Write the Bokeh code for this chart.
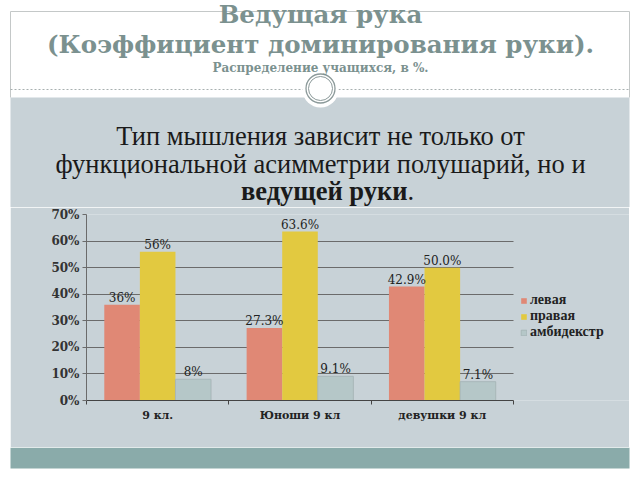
from bokeh.plotting import figure
from bokeh.models import Range1d, FixedTicker, Legend, LegendItem, Grid
from bokeh.layouts import column, row
from bokeh.core.properties import value
from bokeh.embed import file_html
from bokeh.resources import INLINE

# ---------------- data ----------------
categories = ["9 кл.", "Юноши 9 кл", "девушки 9 кл"]
series_names = ["левая", "правая", "амбидекстр"]
left_hand = [36.0, 27.3, 42.9]
right_hand = [56.0, 63.6, 50.0]
ambidexter = [8.0, 9.1, 7.1]
left_labels = ["36%", "27.3%", "42.9%"]
right_labels = ["56%", "63.6%", "50.0%"]
amb_labels = ["8%", "9.1%", "7.1%"]
y_ticks = [0, 10, 20, 30, 40, 50, 60, 70]
y_tick_labels = ["0%", "10%", "20%", "30%", "40%", "50%", "60%", "70%"]

title_1 = "Ведущая рука"
title_2 = "(Коэффициент доминирования руки)."
subtitle = "Распределение учащихся, в %."
text_line_1 = "Тип мышления зависит не только от"
text_line_2 = "функциональной асимметрии полушарий, но и"
text_line_3_bold = "ведущей руки"
text_line_3_tail = "."

# ---------------- styles ----------------
PANEL = "#c8d2d7"
FOOT = "#8aabaa"
TITLE_C = "#7b918f"
RED = "#e08875"
YEL = "#e2c940"
GRY = "#b5c7c8"
GRID = "#6b6b6b"
SERIF = "DejaVu Serif"
TIMES = "Liberation Serif"
W = 640
PL, PR = 10, 629          # slide panel left/right (canvas px)
HB = 207                  # bottom of header block / top of chart block
FTB = 447                 # top of footer bar


def deco_fig(y0, h):
    f = figure(width=W, height=h, x_range=Range1d(0, W), y_range=Range1d(y0 + h, y0),
               output_backend="svg", toolbar_location=None, min_border=0,
               x_axis_location=None, y_axis_location=None)
    f.grid.visible = False
    f.outline_line_color = None
    f.background_fill_color = "white"
    f.border_fill_color = "white"
    return f


# ---------------- header + explanatory text ----------------
hdr = deco_fig(0, HB)
hdr.quad(left=PL, right=PR, top=97, bottom=HB, fill_color=PANEL, line_color=None)
hdr.segment(x0=PL, y0=11, x1=PR, y1=11, line_color="#c4c8c8", line_width=1)
hdr.segment(x0=[PL, PR], y0=[11, 11], x1=[PL, PR], y1=[97, 97], line_color="#c4c8c8", line_width=1)
hdr.segment(x0=PL, y0=89, x1=PR, y1=89, line_color="#a8b0b0", line_width=1, line_dash="2 2")
hdr.circle(x=320, y=89, radius=18, fill_color="white", line_color=None)
hdr.circle(x=320, y=88, radius=14.5, fill_color=None, line_color="#8c9a9a", line_width=1.3)
hdr.circle(x=320, y=88, radius=12, fill_color=None, line_color="#8c9a9a", line_width=1)
hdr.text(x=[320, 320], y=[14, 44], text=[title_1, title_2], text_align="center",
         text_baseline="middle", text_font=value(SERIF), text_font_style="bold",
         text_font_size="24.5px", text_color=TITLE_C)
hdr.text(x=[320], y=[67], text=[subtitle], text_align="center", text_baseline="middle",
         text_font=value(SERIF), text_font_style="bold", text_font_size="12px", text_color=TITLE_C)
hdr.text(x=[320, 320], y=[135, 163], text=[text_line_1, text_line_2], text_align="center",
         text_baseline="middle", text_font=value(TIMES), text_font_size="26.5px", text_color="#1a1a1a")
hdr.text(x=[407], y=[190], text=[text_line_3_bold], text_align="right", text_baseline="middle",
         text_font=value(TIMES), text_font_style="bold", text_font_size="26.5px", text_color="#1a1a1a")
hdr.text(x=[407], y=[190], text=[text_line_3_tail], text_align="left", text_baseline="middle",
         text_font=value(TIMES), text_font_size="26.5px", text_color="#1a1a1a")

# ---------------- chart ----------------
FL, FR, FT, FB = 86, 513, 214, 400   # plot-area edges (canvas px); frame extends to PR for the legend
n = len(categories)
x_end = n + (PR - FR) * n / (FR - FL)
p = figure(width=PR - PL, height=FTB - HB, x_range=Range1d(0, x_end), y_range=Range1d(0, 70),
           output_backend="svg", toolbar_location=None,
           min_border_left=FL - PL, min_border_right=0, min_border_top=FT - HB, min_border_bottom=FTB - FB)
p.margin = (0, W - PR, 0, PL)
p.background_fill_color = PANEL
p.border_fill_color = PANEL
p.outline_line_color = None

centers = [i + 0.5 for i in range(n)]
bw = 0.25
xl = [c - bw for c in centers]
xr = [c + bw for c in centers]

r1 = p.vbar(x=xl, top=left_hand, width=bw, fill_color=RED, line_color=None)
r2 = p.vbar(x=centers, top=right_hand, width=bw, fill_color=YEL, line_color=None)
r3 = p.vbar(x=xr, top=ambidexter, width=bw, fill_color=GRY, line_color="#a3b3b4", line_width=0.8)

lab_kw = dict(text_align="center", text_baseline="bottom", y_offset=0,
              text_font=value(SERIF), text_font_size="12px", text_color="#222222")
p.text(x=xl, y=left_hand, text=left_labels, **lab_kw)
p.text(x=centers, y=right_hand, text=right_labels, **lab_kw)
p.text(x=xr, y=ambidexter, text=amb_labels, **lab_kw)

p.xgrid.visible = False
if "cross_bounds" in Grid.properties():
    p.ygrid.ticker = FixedTicker(ticks=y_ticks)
    p.ygrid.grid_line_color = GRID
    p.ygrid.grid_line_width = 1
    p.ygrid.cross_bounds = (0, n)
else:
    p.ygrid.visible = False
    p.segment(x0=[0] * len(y_ticks), y0=y_ticks, x1=[n] * len(y_ticks), y1=y_ticks,
              line_color=GRID, line_width=1, level="underlay")

ya = p.yaxis[0]
ya.ticker = FixedTicker(ticks=y_ticks)
ya.major_label_overrides = {t: s for t, s in zip(y_ticks, y_tick_labels)}
ya.axis_line_color = GRID
ya.major_tick_line_color = GRID
ya.major_tick_out = 4
ya.major_tick_in = 0
ya.minor_tick_line_color = None
ya.major_label_standoff = 3
ya.major_label_text_font = SERIF
ya.major_label_text_font_size = "12px"
ya.major_label_text_font_style = "bold"
ya.major_label_text_color = "#333333"

xa = p.xaxis[0]
xa.bounds = (0, n)
xa.ticker = FixedTicker(ticks=centers, minor_ticks=list(range(n + 1)))
xa.major_label_overrides = {c: s for c, s in zip(centers, categories)}
xa.axis_line_color = "#444444"
xa.major_tick_line_color = None
xa.major_tick_out = 0
xa.major_tick_in = 0
xa.minor_tick_line_color = "#444444"
xa.minor_tick_out = 4
xa.minor_tick_in = 0
xa.major_label_standoff = 4
xa.major_label_text_font = SERIF
xa.major_label_text_font_size = "11px"
xa.major_label_text_font_style = "bold"
xa.major_label_text_color = "#222222"

legend = Legend(items=[LegendItem(label=series_names[0], renderers=[r1]),
                       LegendItem(label=series_names[1], renderers=[r2]),
                       LegendItem(label=series_names[2], renderers=[r3])],
                location=(520 - FL, FB - 340), margin=0, padding=0, spacing=0,
                glyph_width=7, glyph_height=7, label_standoff=3, label_height=12,
                label_text_font=TIMES, label_text_font_size="14px", label_text_font_style="bold",
                label_text_color="#222222", border_line_color=None, background_fill_alpha=0)
p.add_layout(legend)

# ---------------- footer ----------------
ftr = deco_fig(FTB, 480 - FTB)
ftr.quad(left=PL, right=PR, top=FTB, bottom=468, fill_color=FOOT, line_color=None)

layout = column(hdr, row(p), ftr, spacing=0)
open("out.html", "w").write(file_html(layout, INLINE))
